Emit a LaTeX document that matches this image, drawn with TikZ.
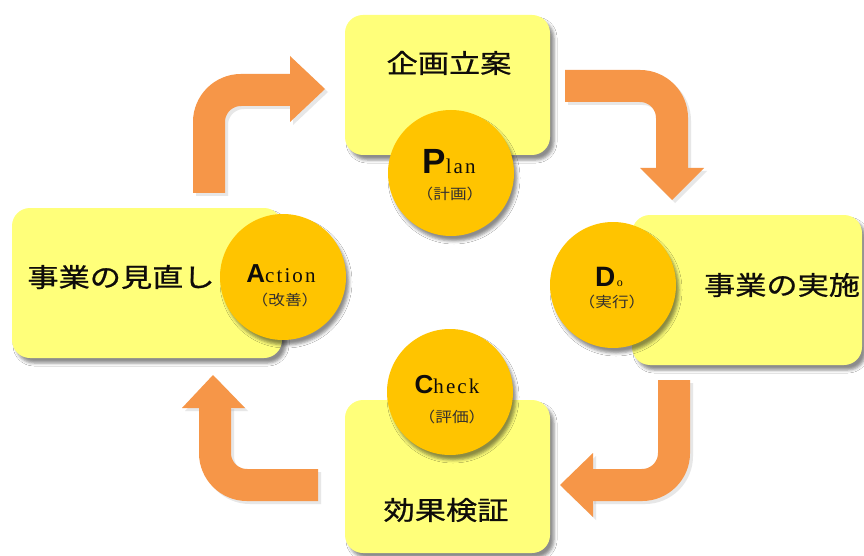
\documentclass[tikz,border=0pt]{standalone}
\usepackage{fontspec}
\setmainfont{Liberation Serif}
\newfontfamily\jp{Noto Sans CJK JP}[FakeStretch=1.2,FakeBold=0.8]
\newfontfamily\jpthin{Noto Sans CJK JP}[FakeStretch=1.15]
\newfontfamily\capsans{Liberation Sans}
\newfontfamily\ser{Liberation Serif}[LetterSpace=10]
\usetikzlibrary{shadows.blur}
\definecolor{boxY}{RGB}{255,255,122}
\definecolor{circY}{RGB}{255,196,0}
\definecolor{arrO}{RGB}{246,150,72}
\definecolor{inkC}{RGB}{15,12,10}
\tikzset{
  stagebox/.style={rectangle, rounded corners=18pt, fill=boxY, draw=none, inner sep=0pt,
    blur shadow={shadow xshift=4pt, shadow yshift=-5pt, shadow blur radius=3pt, shadow opacity=45}},
  phase/.style={circle, fill=circY, draw=none, minimum size=126pt, inner sep=0pt,
    blur shadow={shadow xshift=3pt, shadow yshift=-5pt, shadow blur radius=3pt, shadow opacity=45}},
  boxtext/.style={font=\jp\fontsize{26}{28}\selectfont, text=inkC, inner sep=0pt},
  subtext/.style={font=\jpthin\fontsize{14.5}{16}\selectfont, text=inkC!85, inner sep=0pt},
  letterline/.style={inner sep=0pt, anchor=base, text=inkC},
  flow/.style={draw=arrO, line width=32pt, rounded corners=32pt},
  flowshadow/.style={draw=gray!60, opacity=0.3, line width=32pt, rounded corners=32pt},
  flowhead/.style={fill=arrO},
  headshadow/.style={fill=gray!60, opacity=0.3}
}
\newcommand{\pdcaCap}[2]{{\capsans\bfseries\fontsize{#1}{#1}\selectfont #2}}
\newcommand{\pdcaSer}[1]{{\ser\fontsize{21}{21}\selectfont #1}}
\begin{document}
\begin{tikzpicture}[x=1pt,y=-1pt]
\fill[white] (0,0) rectangle (864,556);
\useasboundingbox (0,0) rectangle (864,556);

% ---------- arrows ----------
% top-left (Action -> Plan)
\coordinate (a1s) at (209,193);
\coordinate (a1c) at (209,90);
\coordinate (a1e) at (292,90);
\draw[flowshadow] ([shift={(3,3)}]a1s) -- ([shift={(3,3)}]a1c) -- ([shift={(3,3)}]a1e);
\fill[headshadow] (293,59) -- (328,92) -- (293,125) -- cycle;
\draw[flow] (a1s) -- (a1c) -- (a1e);
\fill[flowhead] (290,56) -- (325,89) -- (290,122) -- cycle;

% top-right (Plan -> Do)
\coordinate (a2s) at (565,86);
\coordinate (a2c) at (672,86);
\coordinate (a2e) at (672,170);
\draw[flowshadow] ([shift={(3,3)}]a2s) -- ([shift={(3,3)}]a2c) -- ([shift={(3,3)}]a2e);
\fill[headshadow] (643,171) -- (675,203) -- (707,171) -- cycle;
\draw[flow] (a2s) -- (a2c) -- (a2e);
\fill[flowhead] (640,168) -- (672,200) -- (704,168) -- cycle;

% bottom-right (Do -> Check)
\coordinate (a3s) at (674,380);
\coordinate (a3c) at (674,485);
\coordinate (a3e) at (591,485);
\draw[flowshadow] ([shift={(3,3)}]a3s) -- ([shift={(3,3)}]a3c) -- ([shift={(3,3)}]a3e);
\fill[headshadow] (596,456) -- (563,488) -- (596,520) -- cycle;
\draw[flow] (a3s) -- (a3c) -- (a3e);
\fill[flowhead] (593,453) -- (560,485) -- (593,517) -- cycle;

% bottom-left (Check -> Action)
\coordinate (a4s) at (318,485);
\coordinate (a4c) at (215,485);
\coordinate (a4e) at (215,406);
\draw[flowshadow] ([shift={(3,3)}]a4s) -- ([shift={(3,3)}]a4c) -- ([shift={(3,3)}]a4e);
\fill[headshadow] (185,411) -- (216,378) -- (248,411) -- cycle;
\draw[flow] (a4s) -- (a4c) -- (a4e);
\fill[flowhead] (182,408) -- (213,375) -- (245,408) -- cycle;

% ---------- boxes ----------
\node[stagebox, minimum width=205pt, minimum height=140pt] (planbox) at (447.5,85) {};
\node[stagebox, minimum width=270pt, minimum height=150pt] (actbox) at (147,283) {};
\node[stagebox, minimum width=230pt, minimum height=150pt] (dobox) at (747,290) {};
\node[stagebox, minimum width=205pt, minimum height=153pt] (chkbox) at (447.5,476.5) {};

\node[boxtext] (plantxt) at (449,63) {企画立案};
\node[boxtext] (acttxt) at (121,277) {事業の見直し};
\node[boxtext] (dotxt) at (782,285) {事業の実施};
\node[boxtext] (chktxt) at (446,510) {効果検証};

% ---------- circles ----------
\node[phase] (P) at (451,173) {};
\node[phase] (A) at (283,277) {};
\node[phase] (D) at (613,285) {};
\node[phase] (C) at (450,392) {};

\node[letterline] (Pl) at (449,174) {\pdcaCap{35}{P}\pdcaSer{lan}};
\node[subtext] (Ps) at (450,194) {（計画）};

\node[letterline] (Al) at (281,282) {\pdcaCap{26}{A}\pdcaSer{ction}};
\node[subtext] (As) at (285,300) {（改善）};

\node[letterline] (Dl) at (609,286) {\pdcaCap{28}{D}\,{\ser\fontsize{12}{12}\selectfont o}};
\node[subtext] (Ds) at (612,302) {（実行）};

\node[letterline] (Cl) at (447,393) {\pdcaCap{26}{C}\pdcaSer{heck}};
\node[subtext] (Cs) at (452,417) {（評価）};
\end{tikzpicture}
\end{document}
